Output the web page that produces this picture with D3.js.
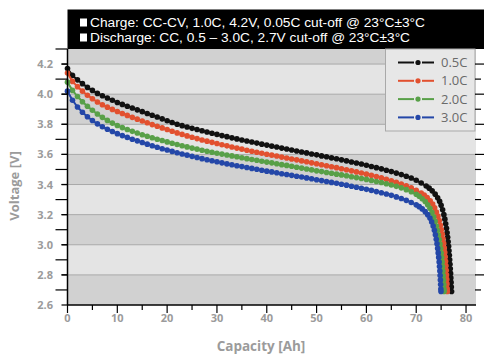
<!DOCTYPE html>
<html>
<head>
<meta charset="utf-8">
<style>
    body { margin: 0; background: #fff; }
    text { font-family: "Open Sans", "DejaVu Sans", sans-serif; }
</style>
</head>
<body>
<div id="vis"></div>

<script src="https://d3js.org/d3.v7.min.js"></script>
<script>
    // discharge rates shown in the legend
    let rates = ["0.5C", "1.0C", "2.0C", "3.0C"];
    let colors = ["#111111", "#e2502f", "#58a048", "#2447a8"];

    // header lines
    let headerLines = [
        "Charge: CC-CV, 1.0C, 4.2V, 0.05C cut-off @ 23°C±3°C",
        "Discharge: CC, 0.5 – 3.0C, 2.7V cut-off @ 23°C±3°C"
    ];

    // tick values
    let xTicks = [0, 10, 20, 30, 40, 50, 60, 70, 80];
    let yTicks = [2.6, 2.8, 3.0, 3.2, 3.4, 3.6, 3.8, 4.0, 4.2];
    let bandEdges = [2.6, 2.8, 3.0, 3.2, 3.4, 3.6, 3.8, 4.0, 4.2, 4.3];

    // [capacity Ah, voltage V]
    let c05 = [[0,4.170],[1,4.125],[2,4.095],[3,4.070],[4,4.045],[5,4.025],[6,4.005],[7,3.990],[8,3.975],[9,3.960],[10,3.945],[11,3.932],[12,3.920],[13,3.908],[14,3.896],[15,3.884],[16,3.872],[17,3.860],[18,3.848],[19,3.836],[20,3.824],[21,3.812],[22,3.800],[23,3.791],[24,3.782],[25,3.773],[26,3.765],[27,3.757],[28,3.749],[29,3.741],[30,3.733],[31,3.725],[32,3.718],[33,3.710],[34,3.703],[35,3.696],[36,3.689],[37,3.682],[38,3.675],[39,3.668],[40,3.662],[41,3.655],[42,3.649],[43,3.642],[44,3.636],[45,3.629],[46,3.623],[47,3.616],[48,3.610],[49,3.603],[50,3.597],[51,3.590],[52,3.584],[53,3.577],[54,3.571],[55,3.564],[56,3.557],[57,3.550],[58,3.543],[59,3.536],[60,3.528],[61,3.520],[62,3.512],[63,3.504],[64,3.495],[65,3.486],[66,3.476],[67,3.466],[68,3.455],[69,3.443],[70,3.428],[71,3.410],[72,3.390],[72.6,3.376],[73.2,3.358],[73.8,3.336],[74.3,3.312],[74.7,3.288],[75.0,3.262],[75.3,3.232],[75.55,3.200],[75.75,3.170],[75.92,3.140],[76.07,3.110],[76.2,3.080],[76.31,3.050],[76.41,3.020],[76.5,2.990],[76.58,2.960],[76.65,2.930],[76.72,2.900],[76.78,2.870],[76.84,2.840],[76.9,2.810],[76.95,2.780],[77.0,2.750],[77.05,2.720],[77.1,2.690]];

    let c10 = [[0,4.140],[1,4.085],[2,4.050],[3,4.020],[4,3.993],[5,3.970],[6,3.948],[7,3.930],[8,3.914],[9,3.899],[10,3.885],[11,3.872],[12,3.859],[13,3.846],[14,3.834],[15,3.822],[16,3.810],[17,3.798],[18,3.787],[19,3.776],[20,3.765],[21,3.754],[22,3.743],[23,3.733],[24,3.723],[25,3.714],[26,3.705],[27,3.696],[28,3.688],[29,3.680],[30,3.672],[31,3.664],[32,3.657],[33,3.649],[34,3.642],[35,3.635],[36,3.628],[37,3.621],[38,3.614],[39,3.608],[40,3.601],[41,3.595],[42,3.589],[43,3.582],[44,3.576],[45,3.570],[46,3.564],[47,3.557],[48,3.551],[49,3.544],[50,3.538],[51,3.531],[52,3.525],[53,3.518],[54,3.512],[55,3.505],[56,3.498],[57,3.491],[58,3.484],[59,3.477],[60,3.469],[61,3.461],[62,3.453],[63,3.444],[64,3.435],[65,3.425],[66,3.415],[67,3.404],[68,3.392],[69,3.378],[70,3.362],[71,3.343],[71.6,3.330],[72.2,3.313],[72.8,3.292],[73.3,3.270],[73.7,3.245],[74.05,3.218],[74.35,3.190],[74.62,3.160],[74.85,3.130],[75.05,3.100],[75.22,3.070],[75.37,3.040],[75.5,3.010],[75.62,2.980],[75.72,2.950],[75.81,2.920],[75.89,2.890],[75.96,2.860],[76.02,2.830],[76.08,2.800],[76.13,2.770],[76.17,2.740],[76.21,2.710],[76.24,2.690]];

    let c20 = [[0,4.080],[1,4.025],[2,3.985],[3,3.950],[4,3.920],[5,3.893],[6,3.868],[7,3.846],[8,3.826],[9,3.808],[10,3.792],[11,3.778],[12,3.765],[13,3.753],[14,3.742],[15,3.731],[16,3.721],[17,3.711],[18,3.701],[19,3.692],[20,3.683],[21,3.674],[22,3.666],[23,3.658],[24,3.650],[25,3.642],[26,3.635],[27,3.628],[28,3.621],[29,3.614],[30,3.608],[31,3.602],[32,3.596],[33,3.590],[34,3.584],[35,3.578],[36,3.572],[37,3.566],[38,3.561],[39,3.555],[40,3.549],[41,3.544],[42,3.538],[43,3.532],[44,3.527],[45,3.521],[46,3.515],[47,3.509],[48,3.503],[49,3.497],[50,3.491],[51,3.486],[52,3.480],[53,3.475],[54,3.469],[55,3.464],[56,3.458],[57,3.452],[58,3.446],[59,3.440],[60,3.434],[61,3.427],[62,3.420],[63,3.413],[64,3.405],[65,3.397],[66,3.388],[67,3.378],[68,3.366],[69,3.352],[70,3.335],[70.6,3.322],[71.2,3.306],[71.8,3.287],[72.3,3.266],[72.75,3.242],[73.15,3.215],[73.5,3.186],[73.8,3.156],[74.05,3.125],[74.27,3.095],[74.46,3.065],[74.63,3.035],[74.78,3.005],[74.91,2.975],[75.02,2.945],[75.12,2.915],[75.21,2.885],[75.29,2.855],[75.36,2.825],[75.42,2.795],[75.48,2.765],[75.53,2.735],[75.57,2.705],[75.6,2.690]];

    let c30 = [[0,4.020],[1,3.960],[2,3.915],[3,3.880],[4,3.850],[5,3.825],[6,3.803],[7,3.784],[8,3.767],[9,3.752],[10,3.738],[11,3.725],[12,3.713],[13,3.701],[14,3.690],[15,3.679],[16,3.668],[17,3.658],[18,3.648],[19,3.638],[20,3.629],[21,3.620],[22,3.611],[23,3.603],[24,3.595],[25,3.587],[26,3.579],[27,3.572],[28,3.565],[29,3.558],[30,3.551],[31,3.544],[32,3.537],[33,3.531],[34,3.525],[35,3.519],[36,3.513],[37,3.507],[38,3.501],[39,3.495],[40,3.489],[41,3.484],[42,3.478],[43,3.472],[44,3.467],[45,3.461],[46,3.455],[47,3.450],[48,3.444],[49,3.438],[50,3.432],[51,3.426],[52,3.420],[53,3.414],[54,3.408],[55,3.402],[56,3.396],[57,3.389],[58,3.382],[59,3.375],[60,3.368],[61,3.361],[62,3.353],[63,3.345],[64,3.337],[65,3.328],[66,3.318],[67,3.307],[68,3.295],[69,3.281],[70,3.265],[70.6,3.253],[71.2,3.238],[71.8,3.220],[72.3,3.200],[72.75,3.177],[73.1,3.152],[73.4,3.125],[73.65,3.096],[73.85,3.066],[74.02,3.036],[74.17,3.006],[74.3,2.976],[74.41,2.946],[74.51,2.916],[74.6,2.886],[74.67,2.856],[74.74,2.826],[74.8,2.796],[74.85,2.766],[74.9,2.736],[74.94,2.706],[74.97,2.690]];

    let series = [c05, c10, c20, c30];

    let W = 484, H = 356;
    let svg = d3.select("#vis").append("svg")
        .attr("width", W)
        .attr("height", H);

    // scales
    let x = d3.scaleLinear().domain([0, 82]).range([67.5, 476]);
    let y = d3.scaleLinear().domain([2.6, 4.3]).range([305, 49]);

    // alternating grey bands
    svg.append("g").selectAll("rect")
        .data(d3.pairs(bandEdges))
        .enter()
        .append("rect")
        .attr("x", x(0))
        .attr("width", x(82) - x(0))
        .attr("y", d => y(d[1]))
        .attr("height", d => y(d[0]) - y(d[1]))
        .attr("fill", (d, i) => i % 2 === 0 ? "#d1d1d1" : "#e4e4e4");

    // grid lines
    svg.append("g").selectAll("line")
        .data(yTicks.slice(1))
        .enter()
        .append("line")
        .attr("x1", x(0)).attr("x2", x(82))
        .attr("y1", d => y(d)).attr("y2", d => y(d))
        .attr("stroke", "#a8a8a8")
        .attr("stroke-width", 1);

    // header box
    svg.append("rect")
        .attr("x", x(0)).attr("y", 9.5)
        .attr("width", W - x(0)).attr("height", y(4.3) - 9.5)
        .attr("fill", "#000");

    headerLines.forEach(function(t, i) {
        svg.append("rect")
            .attr("x", 80).attr("y", 18.5 + i * 15)
            .attr("width", 7).attr("height", 8)
            .attr("fill", "#fff");
        svg.append("text")
            .attr("x", 90).attr("y", 27 + i * 15)
            .attr("fill", "#fff")
            .style("font-family", "Liberation Sans, sans-serif")
            .style("font-size", "12px")
            .attr("textLength", i === 0 ? 335 : 320)
            .attr("lengthAdjust", "spacingAndGlyphs")
            .text(t);
    });

    // legend box
    let lg = svg.append("g");
    lg.append("rect")
        .attr("x", 385.5).attr("y", y(4.3))
        .attr("width", x(82) - 385.5 - 1).attr("height", 82)
        .attr("fill", "#e7e7e7")
        .attr("stroke", "#a9a9a9");

    rates.forEach(function(r, i) {
        let ly = 62.5 + i * 18.3;
        lg.append("line")
            .attr("x1", 398).attr("x2", 414).attr("y1", ly).attr("y2", ly)
            .attr("stroke", colors[i]).attr("stroke-width", 2);
        lg.append("line")
            .attr("x1", 422).attr("x2", 434).attr("y1", ly).attr("y2", ly)
            .attr("stroke", colors[i]).attr("stroke-width", 2);
        lg.append("circle")
            .attr("cx", 418).attr("cy", ly).attr("r", 2.6)
            .attr("fill", colors[i]);
        lg.append("text")
            .attr("x", 441).attr("y", ly + 4.5)
            .attr("fill", "#6a6a6a")
            .style("font-size", "13px")
            .text(r);
    });

    // curves with markers
    let line = d3.line()
        .x(d => x(d[0]))
        .y(d => y(d[1]));

    series.forEach(function(s, i) {
        svg.append("path")
            .datum(s)
            .attr("d", line)
            .attr("fill", "none")
            .attr("stroke", colors[i])
            .attr("stroke-width", 2);
        svg.append("g").selectAll("circle")
            .data(s)
            .enter()
            .append("circle")
            .attr("cx", d => x(d[0]))
            .attr("cy", d => y(d[1]))
            .attr("r", 2.8)
            .attr("fill", colors[i]);
    });

    // left axis
    let yAxisG = svg.append("g");
    yAxisG.append("line")
        .attr("x1", x(0)).attr("x2", x(0))
        .attr("y1", y(4.3)).attr("y2", y(2.6))
        .attr("stroke", "#000").attr("stroke-width", 1.5);
    let yMinor = d3.range(27, 44).map(d => d / 10);
    yAxisG.selectAll(".ytk")
        .data(yMinor.concat(yTicks))
        .enter()
        .append("line")
        .attr("x1", d => yTicks.includes(d) ? x(0) - 6 : x(0) - 12)
        .attr("x2", x(0))
        .attr("y1", d => y(d)).attr("y2", d => y(d))
        .attr("stroke", "#000").attr("stroke-width", 1.2);
    yAxisG.selectAll("text")
        .data(yTicks)
        .enter()
        .append("text")
        .attr("x", 53)
        .attr("y", d => y(d) + 4)
        .attr("text-anchor", "end")
        .attr("fill", "#9b9b9b")
        .style("font-size", "11px")
        .style("font-weight", "700")
        .text(d => d.toFixed(1));

    // right ticks
    svg.append("g").selectAll("line")
        .data(d3.range(27, 43).map(d => d / 10))
        .enter()
        .append("line")
        .attr("x1", 475)
        .attr("x2", (d, i) => i % 2 === 0 ? 481 : 484)
        .attr("y1", d => y(d)).attr("y2", d => y(d))
        .attr("stroke", "#000").attr("stroke-width", 1.2);

    // bottom axis
    let xAxisG = svg.append("g");
    xAxisG.append("line")
        .attr("x1", x(0)).attr("x2", x(82))
        .attr("y1", y(2.6)).attr("y2", y(2.6))
        .attr("stroke", "#000").attr("stroke-width", 1.5);
    let xMinor = [5, 15, 25, 35, 45, 55, 65, 75];
    xAxisG.selectAll(".xtk")
        .data(xTicks.concat(xMinor))
        .enter()
        .append("line")
        .attr("x1", d => x(d)).attr("x2", d => x(d))
        .attr("y1", y(2.6))
        .attr("y2", d => xTicks.includes(d) ? y(2.6) + 8 : y(2.6) + 5)
        .attr("stroke", "#000").attr("stroke-width", 1.2);
    xAxisG.selectAll("text")
        .data(xTicks)
        .enter()
        .append("text")
        .attr("x", d => x(d))
        .attr("y", 322)
        .attr("text-anchor", "middle")
        .attr("fill", "#9b9b9b")
        .style("font-size", "11px")
        .style("font-weight", "700")
        .text(d => d);

    // axis titles
    svg.append("text")
        .attr("transform", "translate(19,186) rotate(-90)")
        .attr("text-anchor", "middle")
        .attr("fill", "#9b9b9b")
        .style("font-size", "13px")
        .style("font-weight", "700")
        .text("Voltage [V]");

    svg.append("text")
        .attr("x", 261).attr("y", 351)
        .attr("text-anchor", "middle")
        .attr("fill", "#9b9b9b")
        .style("font-size", "13.5px")
        .style("font-weight", "700")
        .text("Capacity [Ah]");
</script>
</body>
</html>
